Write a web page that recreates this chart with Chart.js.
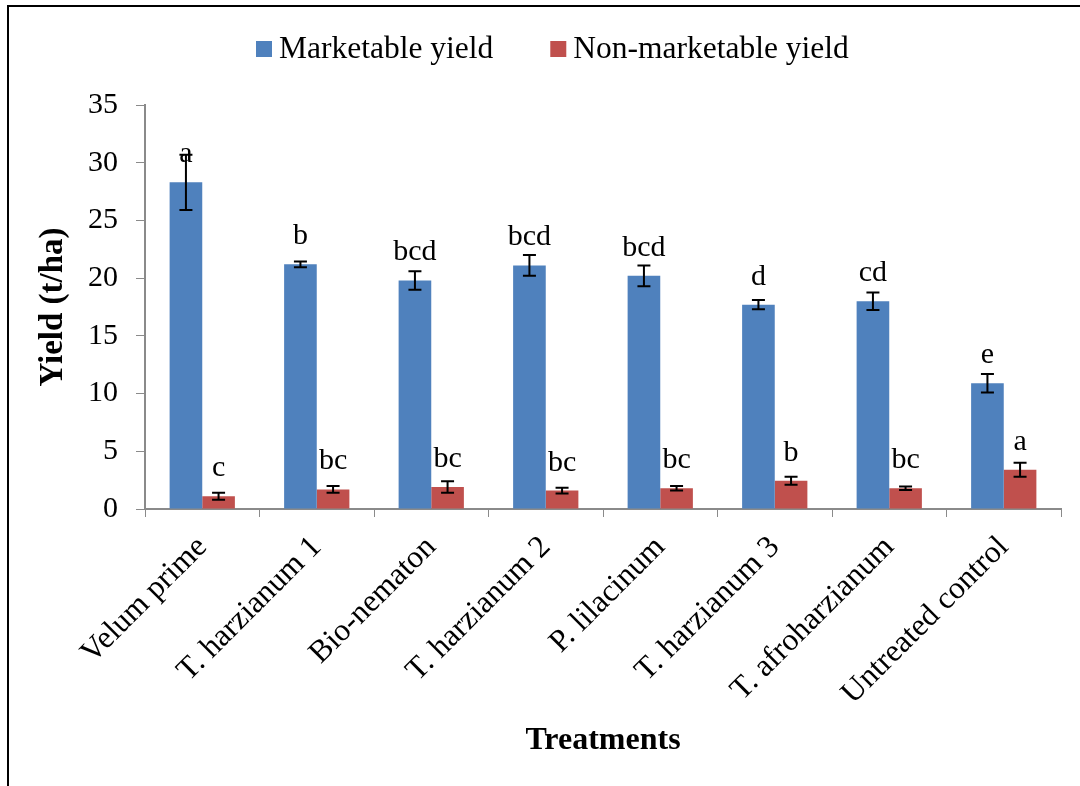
<!DOCTYPE html>
<html>
<head>
<meta charset="utf-8">
<title>Yield by treatment</title>
<script src="https://cdn.jsdelivr.net/npm/chart.js@4.4.1/dist/chart.umd.min.js"></script>
<style>
  html, body { margin: 0; padding: 0; background: #fff; overflow: hidden; }
  #frame { position: absolute; left: 7px; top: 5px; width: 1200px; height: 900px;
           border-left: 2px solid #000; border-top: 2px solid #000; }
  #wrap { position: absolute; left: 0; top: 0; width: 1080px; height: 786px; }
</style>
</head>
<body>
<div id="frame"></div>
<div id="wrap"><canvas id="yieldChart" width="1080" height="786"></canvas></div>
<script>
// Datos del ensayo (t/ha), media ± error estándar
const treatments = ['Velum prime', 'T. harzianum 1', 'Bio-nematon', 'T. harzianum 2',
                    'P. lilacinum', 'T. harzianum 3', 'T. afroharzianum', 'Untreated control'];
const marketable = [28.3, 21.2, 19.8, 21.1, 20.2, 17.7, 18.0, 10.9];
const marketableErr = [2.4, 0.25, 0.8, 0.9, 0.9, 0.4, 0.75, 0.8];
const marketableLetters = ['a', 'b', 'bcd', 'bcd', 'bcd', 'd', 'cd', 'e'];
const nonMarketable = [1.1, 1.7, 1.9, 1.6, 1.8, 2.45, 1.8, 3.4];
const nonMarketableErr = [0.3, 0.3, 0.5, 0.25, 0.2, 0.35, 0.15, 0.6];
const nonMarketableLetters = ['c', 'bc', 'bc', 'bc', 'bc', 'b', 'bc', 'a'];
const yTicks = [0, 5, 10, 15, 20, 25, 30, 35];

const SERIF = '"Liberation Serif", "Times New Roman", serif';
const AXIS_GREY = '#8a8a8a';

// Barras de error y letras de significancia
const errorBarsPlugin = {
    id: 'errorBars',
    afterDatasetsDraw(chart) {
        const ctx = chart.ctx;
        const y = chart.scales.y;
        ctx.save();
        chart.data.datasets.forEach((ds, i) => {
            const meta = chart.getDatasetMeta(i);
            meta.data.forEach((bar, j) => {
                const v = ds.data[j];
                const e = ds.errors[j];
                // letra sobre la barra
                ctx.fillStyle = '#000';
                ctx.font = '30px ' + SERIF;
                ctx.textAlign = 'center';
                ctx.textBaseline = 'alphabetic';
                ctx.fillText(ds.letters[j], bar.x, bar.y - 20);
                // barra de error
                const top = y.getPixelForValue(v + e);
                const bot = y.getPixelForValue(v - e);
                ctx.strokeStyle = '#000';
                ctx.lineWidth = 2;
                ctx.beginPath();
                ctx.moveTo(bar.x, top); ctx.lineTo(bar.x, bot);
                ctx.moveTo(bar.x - 6.5, top); ctx.lineTo(bar.x + 6.5, top);
                ctx.moveTo(bar.x - 6.5, bot); ctx.lineTo(bar.x + 6.5, bot);
                ctx.stroke();
            });
        });
        ctx.restore();
    }
};

// Leyenda dibujada a mano para controlar los espacios
const topLegendPlugin = {
    id: 'topLegend',
    afterDraw(chart) {
        const ctx = chart.ctx;
        ctx.save();
        ctx.font = '31.5px ' + SERIF;
        ctx.textBaseline = 'middle';
        ctx.textAlign = 'left';
        let x = 256;
        const cy = 49;
        chart.data.datasets.forEach(ds => {
            ctx.fillStyle = ds.backgroundColor;
            ctx.fillRect(x, cy - 8, 16, 16);
            ctx.fillStyle = '#000';
            ctx.fillText(ds.label, x + 23, cy + 1);
            x += 23 + ctx.measureText(ds.label).width + 57;
        });
        ctx.restore();
    }
};

const ctx = document.getElementById('yieldChart').getContext('2d');
const yieldChart = new Chart(ctx, {
    type: 'bar',
    data: {
        labels: treatments,
        datasets: [{
            label: 'Marketable yield',
            data: marketable,
            errors: marketableErr,
            letters: marketableLetters,
            backgroundColor: '#4F81BD'
        }, {
            label: 'Non-marketable yield',
            data: nonMarketable,
            errors: nonMarketableErr,
            letters: nonMarketableLetters,
            backgroundColor: '#C0504D'
        }]
    },
    options: {
        responsive: false,
        animation: false,
        categoryPercentage: 0.57,
        barPercentage: 1.0,
        layout: { padding: { top: 105, left: 10, right: 19, bottom: 0 } },
        plugins: {
            legend: { display: false },
            tooltip: { enabled: false }
        },
        scales: {
            x: {
                grid: { drawOnChartArea: false, offset: true, color: AXIS_GREY, tickLength: 8 },
                border: { color: AXIS_GREY, width: 2 },
                ticks: {
                    color: '#000',
                    font: { family: SERIF, size: 31.5 },
                    minRotation: 45, maxRotation: 45,
                    autoSkip: false,
                    padding: 12
                },
                title: {
                    display: true,
                    text: 'Treatments',
                    color: '#000',
                    font: { family: SERIF, size: 32, weight: 'bold' },
                    padding: { top: 0, bottom: 26 }
                },
                afterFit(scale) { scale.height = 786 - 509; }
            },
            y: {
                min: 0,
                max: 35,
                afterBuildTicks(scale) { scale.ticks = yTicks.map(v => ({ value: v })); },
                grid: { drawOnChartArea: false, color: AXIS_GREY, tickLength: 9 },
                border: { color: AXIS_GREY, width: 2 },
                ticks: {
                    color: '#000',
                    font: { family: SERIF, size: 30 },
                    padding: 18
                },
                title: {
                    display: true,
                    text: 'Yield (t/ha)',
                    color: '#000',
                    font: { family: SERIF, size: 33, weight: 'bold' },
                    padding: { top: 24, bottom: 0 }
                },
                afterFit(scale) { scale.width = 145 - 10; }
            }
        }
    },
    plugins: [errorBarsPlugin, topLegendPlugin]
});
</script>
</body>
</html>
